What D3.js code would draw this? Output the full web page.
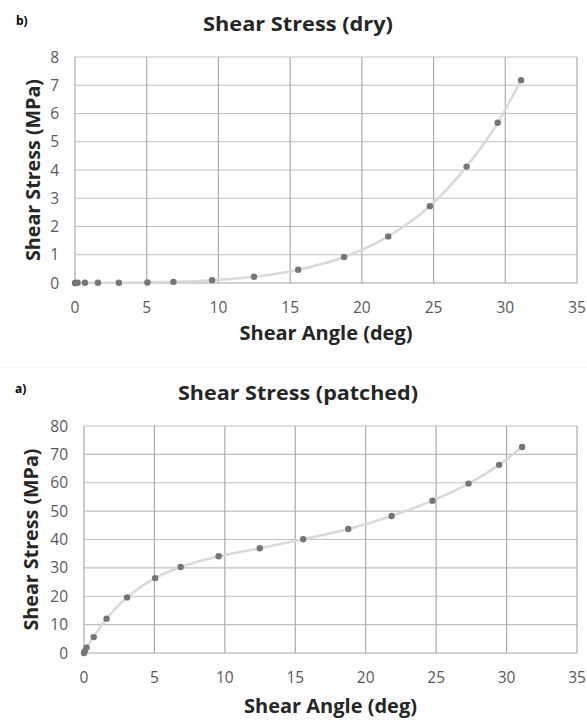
<!DOCTYPE html>
<html>
<head>
<meta charset="utf-8">
<script src="https://cdn.jsdelivr.net/npm/d3@7"></script>
<style>
body { margin:0; background:#fff; }
text { font-family: "Open Sans", sans-serif; }
</style>
</head>
<body>
<div id="chart"></div>
<script>
// shear angles (deg) shared by both tests
var angle = [0, 0.05, 0.18, 0.69, 1.6, 3.06, 5.05, 6.86, 9.56, 12.48, 15.56, 18.76, 21.84, 24.74, 27.3, 29.47, 31.1];
var dryStress = [0, 0, 0.01, 0.01, 0.01, 0.01, 0.02, 0.04, 0.1, 0.22, 0.47, 0.92, 1.65, 2.72, 4.12, 5.67, 7.18];
var patchedStress = [0, 0.6, 1.9, 5.6, 12.1, 19.6, 26.4, 30.3, 34.1, 36.9, 40.1, 43.7, 48.3, 53.7, 59.7, 66.3, 72.6];
var xTicks = [0, 5, 10, 15, 20, 25, 30, 35];
var dryTicks = [0, 1, 2, 3, 4, 5, 6, 7, 8];
var patchedTicks = [0, 10, 20, 30, 40, 50, 60, 70, 80];

var svg = d3.select("#chart").append("svg")
    .attr("width", 587)
    .attr("height", 722);

// faint seam between the two pasted charts
svg.append("line").attr("x1", 0).attr("x2", 587).attr("y1", 367).attr("y2", 367)
  .attr("stroke", "#f0f0f0").attr("stroke-width", 1);

function drawPanel(opt) {
  var x = d3.scaleLinear().domain([0, 35]).range([opt.left, opt.right]);
  var y = d3.scaleLinear().domain([0, opt.ymax]).range([opt.bottom, opt.top]);
  var g = svg.append("g");

  g.append("text").attr("x", opt.tagX).attr("y", opt.tagY)
    .attr("font-size", 12).attr("font-weight", "bold").attr("fill", "#000")
    .text(opt.tag);

  g.append("text").attr("x", 298).attr("y", opt.titleY)
    .attr("text-anchor", "middle").attr("font-size", 20).attr("font-weight", "bold")
    .attr("fill", "#262626").attr("textLength", opt.titleW).attr("lengthAdjust", "spacingAndGlyphs")
    .text(opt.title);

  // grid
  g.selectAll(".hg").data(opt.yTicks).enter().append("line")
    .attr("x1", opt.left).attr("x2", opt.right)
    .attr("y1", function(d){ return y(d); }).attr("y2", function(d){ return y(d); })
    .attr("stroke", function(d){ return d == 0 ? "#a6a6a6" : "#bfbfbf"; })
    .attr("stroke-width", 1.2);
  g.selectAll(".vg").data(xTicks).enter().append("line")
    .attr("y1", opt.top).attr("y2", opt.bottom)
    .attr("x1", function(d){ return x(d); }).attr("x2", function(d){ return x(d); })
    .attr("stroke", "#ababab").attr("stroke-width", 1.2);

  // tick labels
  g.selectAll(".yl").data(opt.yTicks).enter().append("text")
    .attr("x", opt.left - 16).attr("y", function(d){ return y(d) + 5.5; })
    .attr("text-anchor", "end").attr("font-size", 15.5).attr("fill", "#595959")
    .text(function(d){ return d; });
  g.selectAll(".xl").data(xTicks).enter().append("text")
    .attr("x", function(d){ return x(d); }).attr("y", opt.bottom + 30)
    .attr("text-anchor", "middle").attr("font-size", 15.5).attr("fill", "#595959")
    .text(function(d){ return d; });

  g.append("text").attr("x", (opt.left + opt.right) / 2).attr("y", opt.xLabelY)
    .attr("text-anchor", "middle").attr("font-size", 19).attr("font-weight", "bold")
    .attr("fill", "#262626").attr("textLength", 173).attr("lengthAdjust", "spacingAndGlyphs")
    .text("Shear Angle (deg)");
  g.append("text")
    .attr("transform", "translate(" + opt.yLabelX + "," + (opt.top + opt.bottom) / 2 + ") rotate(-90)")
    .attr("text-anchor", "middle").attr("font-size", 19).attr("font-weight", "bold")
    .attr("fill", "#262626").attr("textLength", 182).attr("lengthAdjust", "spacingAndGlyphs")
    .text("Shear Stress (MPa)");

  var pts = angle.map(function(a, i){ return [a, opt.values[i]]; });
  var line = d3.line()
    .x(function(d){ return x(d[0]); })
    .y(function(d){ return y(d[1]); })
    .curve(d3.curveMonotoneX);
  g.append("path").datum(pts).attr("d", line)
    .attr("fill", "none").attr("stroke", "#d9d9d9").attr("stroke-width", 2.5);

  g.selectAll(".pt").data(pts).enter().append("circle")
    .attr("cx", function(d){ return x(d[0]); })
    .attr("cy", function(d){ return y(d[1]); })
    .attr("r", 3.2).attr("fill", "#757575");
}

drawPanel({ tag: "b)", tagX: 16, tagY: 25, title: "Shear Stress (dry)", titleW: 190, titleY: 31,
  left: 75, right: 577, top: 57, bottom: 283, ymax: 8, yTicks: dryTicks,
  values: dryStress, xLabelY: 340, yLabelX: 40 });

drawPanel({ tag: "a)", tagX: 15, tagY: 393, title: "Shear Stress (patched)", titleW: 240, titleY: 400,
  left: 84, right: 577, top: 426, bottom: 653, ymax: 80, yTicks: patchedTicks,
  values: patchedStress, xLabelY: 713, yLabelX: 38 });
</script>
</body>
</html>
